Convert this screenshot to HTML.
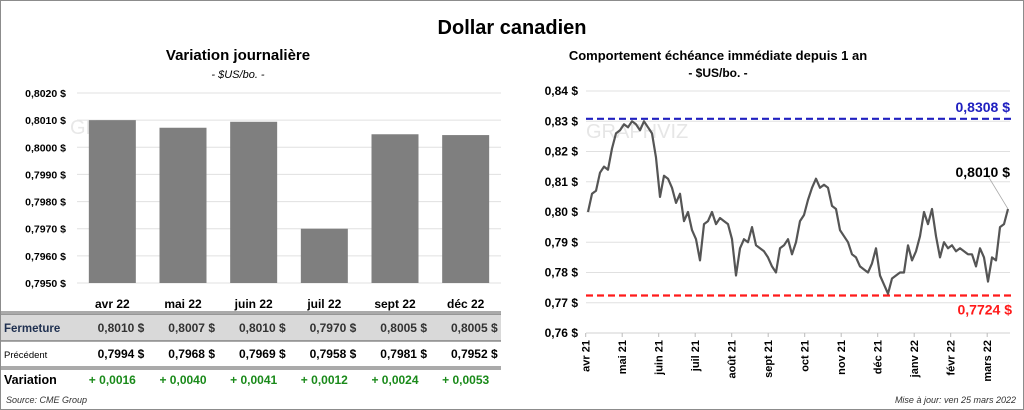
<!DOCTYPE html>
<html><head><meta charset="utf-8"><style>
body{margin:0;background:#fff;}
#wrap{position:relative;width:1024px;height:410px;overflow:hidden;font-family:"Liberation Sans",sans-serif;}
svg text{font-family:"Liberation Sans",sans-serif;}
</style></head><body>
<div id="wrap">
<svg id="svg" width="1024" height="410">
<rect x="0.5" y="0.5" width="1023" height="409" fill="#fff" stroke="#8c8c8c"/>
<text x="512" y="34" text-anchor="middle" font-size="20" font-weight="bold">Dollar canadien</text>
<text x="238" y="60" text-anchor="middle" font-size="15" font-weight="bold">Variation  journalière</text>
<text x="238" y="78" text-anchor="middle" font-size="11" font-style="italic">- $US/bo. -</text>
<text x="718" y="60" text-anchor="middle" font-size="13" font-weight="bold">Comportement échéance immédiate depuis 1 an</text>
<text x="718" y="77" text-anchor="middle" font-size="12" font-weight="bold">- $US/bo. -</text>
<g id="left"></g><g id="table"></g><g id="right"></g>
<text x="6" y="403" font-size="9" font-style="italic" fill="#333">Source: CME Group</text>
<text x="1016" y="403" text-anchor="end" font-size="9" font-style="italic" fill="#333">Mise à jour: ven 25 mars 2022</text>
</svg>
</div>
<script>
const NS="http://www.w3.org/2000/svg";
function mk(parent,tag,attrs,txt){const e=document.createElementNS(NS,tag);for(const k in attrs)e.setAttribute(k,attrs[k]);if(txt!==undefined)e.textContent=txt;parent.appendChild(e);return e;}

// ---- left bar chart data ----
const barCats=["avr 22","mai 22","juin 22","juil 22","sept 22","déc 22"];
const barVals=[0.8010,0.80072,0.80094,0.7970,0.80048,0.80045];
const barTicks=[0.7950,0.7960,0.7970,0.7980,0.7990,0.8000,0.8010,0.8020];
const closeVals=["0,8010","0,8007","0,8010","0,7970","0,8005","0,8005"];
const prevVals=["0,7994","0,7968","0,7969","0,7958","0,7981","0,7952"];
const varVals=["+ 0,0016","+ 0,0040","+ 0,0041","+ 0,0012","+ 0,0024","+ 0,0053"];

// ---- right line chart data ----
const lineTicks=[0.76,0.77,0.78,0.79,0.80,0.81,0.82,0.83,0.84];
const monthLabels=["avr 21","mai 21","juin 21","juil 21","août 21","sept 21","oct 21","nov 21","déc 21","janv 22","févr 22","mars 22"];
const priceSeries=[0.800,0.806,0.807,0.813,0.815,0.814,0.821,0.826,0.827,0.829,0.828,0.830,0.829,0.827,0.830,0.828,0.826,0.818,0.805,0.812,0.811,0.808,0.803,0.806,0.797,0.800,0.794,0.791,0.784,0.796,0.797,0.800,0.796,0.798,0.797,0.796,0.791,0.779,0.788,0.791,0.790,0.795,0.789,0.788,0.787,0.785,0.782,0.780,0.788,0.789,0.791,0.786,0.790,0.797,0.799,0.804,0.808,0.811,0.808,0.809,0.808,0.802,0.801,0.794,0.792,0.790,0.786,0.785,0.782,0.781,0.780,0.783,0.788,0.779,0.776,0.773,0.778,0.779,0.780,0.780,0.789,0.784,0.787,0.792,0.800,0.796,0.801,0.792,0.785,0.790,0.788,0.789,0.787,0.788,0.787,0.786,0.786,0.782,0.788,0.785,0.777,0.785,0.784,0.795,0.796,0.801];
const highVal=0.8308, lowVal=0.7724, lastVal=0.8010;
const highLabel="0,8308 $", lowLabel="0,7724 $", lastLabel="0,8010 $";

// left chart
const L=document.getElementById('left');
const ly=v=>283-(v-0.7950)/0.0070*190;
const lx0=77,lw=424,band=lw/barCats.length;
barTicks.forEach(t=>{
 const g=mk(L,'line',{x1:lx0,x2:lx0+lw,y1:ly(t),y2:ly(t),stroke:'#e0e0e0','stroke-width':1});
 
 const tx=mk(L,'text',{x:66,y:ly(t)+4,'text-anchor':'end','font-size':10.5,'font-weight':'bold'},t.toFixed(4).replace('.',',')+' $');
 
});
mk(L,'text',{x:70,y:134,'font-size':20,fill:'#e8e8e8'},'GR');
barCats.forEach((c,i)=>{
 const cx=lx0+band*(i+0.5);
 const r=mk(L,'rect',{x:cx-23.5,y:ly(barVals[i]),width:47,height:283-ly(barVals[i]),fill:'#7f7f7f'});
 
 const t=mk(L,'text',{x:cx,y:308,'text-anchor':'middle','font-size':12,'font-weight':'bold'},c);
 
});
// table
const T=document.getElementById('table');
mk(T,'rect',{x:1,y:314,width:500,height:27,fill:'#d9d9d9'});
mk(T,'line',{x1:1,x2:501,y1:312,y2:312,stroke:'#555','stroke-width':1});
mk(T,'line',{x1:1,x2:501,y1:314,y2:314,stroke:'#555','stroke-width':1});
mk(T,'line',{x1:1,x2:501,y1:341,y2:341,stroke:'#555','stroke-width':1});
mk(T,'line',{x1:1,x2:501,y1:367,y2:367,stroke:'#555','stroke-width':1});
mk(T,'line',{x1:1,x2:501,y1:369,y2:369,stroke:'#555','stroke-width':1});
let h=mk(T,'text',{x:4,y:332,'font-size':11.5,'font-weight':'bold',fill:'#1f3050'},'Fermeture');
h=mk(T,'text',{x:4,y:358,'font-size':9.5},'Précédent');
h=mk(T,'text',{x:4,y:384,'font-size':12.5,'font-weight':'bold'},'Variation');
barCats.forEach((c,i)=>{
 const cx=lx0+band*(i+0.5);
 let t=mk(T,'text',{x:cx+32,y:332,'text-anchor':'end','font-size':12,'font-weight':'bold',fill:'#333'},closeVals[i]+'  $');
 
 t=mk(T,'text',{x:cx+32,y:358,'text-anchor':'end','font-size':12,'font-weight':'bold'},prevVals[i]+'  $');
 
 t=mk(T,'text',{x:cx,y:384,'text-anchor':'middle','font-size':12,'font-weight':'bold',fill:'#1a8a1a'},varVals[i]);
 
});
// right chart
const R=document.getElementById('right');
const ry=v=>333-(v-0.76)/0.08*242;
const rx0=586,rx1=1008;
lineTicks.forEach(t=>{
 const g=mk(R,'line',{x1:rx0,x2:rx1+2,y1:ry(t),y2:ry(t),stroke:t===0.76?'#d0d0d0':'#e0e0e0','stroke-width':1});
 
 const tx=mk(R,'text',{x:578,y:ry(t)+4,'text-anchor':'end','font-size':12,'font-weight':'bold'},t.toFixed(2).replace('.',',')+' $');
 
});
mk(R,'text',{x:586,y:138,'font-size':20,fill:'#e6e6e6'},'GRAPHVIZ');
const mstep=36.5;
monthLabels.forEach((m,i)=>{
 const x=585.7+i*mstep;
 mk(R,'line',{x1:x,x2:x,y1:333,y2:337,stroke:'#bbb'});
 const t=mk(R,'text',{x:0,y:0,'text-anchor':'end','font-size':11,'font-weight':'bold',transform:`translate(${x+4},340) rotate(-90)`},m);
 
});
let hl=mk(R,'line',{x1:rx0,x2:rx1+3,y1:ry(highVal),y2:ry(highVal),stroke:'#2020c0','stroke-width':2.2,'stroke-dasharray':'7,4'});

hl=mk(R,'line',{x1:rx0,x2:rx1+3,y1:ry(lowVal),y2:ry(lowVal),stroke:'#ff1a1a','stroke-width':2.2,'stroke-dasharray':'7,4'});

const n=priceSeries.length;
const px=i=>588+i*(rx1-588)/(n-1);
const pts=priceSeries.map((v,i)=>px(i).toFixed(1)+','+ry(v).toFixed(1)).join(' ');
const pl=mk(R,'polyline',{points:pts,fill:'none',stroke:'#555','stroke-width':2.2,'stroke-linejoin':'round'});

let lt=mk(R,'text',{x:1010,y:ry(highVal)-7,'text-anchor':'end','font-size':14,'font-weight':'bold',fill:'#2020c0'},highLabel);

lt=mk(R,'text',{x:1012,y:ry(lowVal)+19,'text-anchor':'end','font-size':14,'font-weight':'bold',fill:'#ff1a1a'},lowLabel);

mk(R,'line',{x1:988,y1:176,x2:px(n-1),y2:ry(lastVal),stroke:'#aaa','stroke-width':0.8});
lt=mk(R,'text',{x:1010,y:177,'text-anchor':'end','font-size':14,'font-weight':'bold'},lastLabel);

</script>
</body></html>
